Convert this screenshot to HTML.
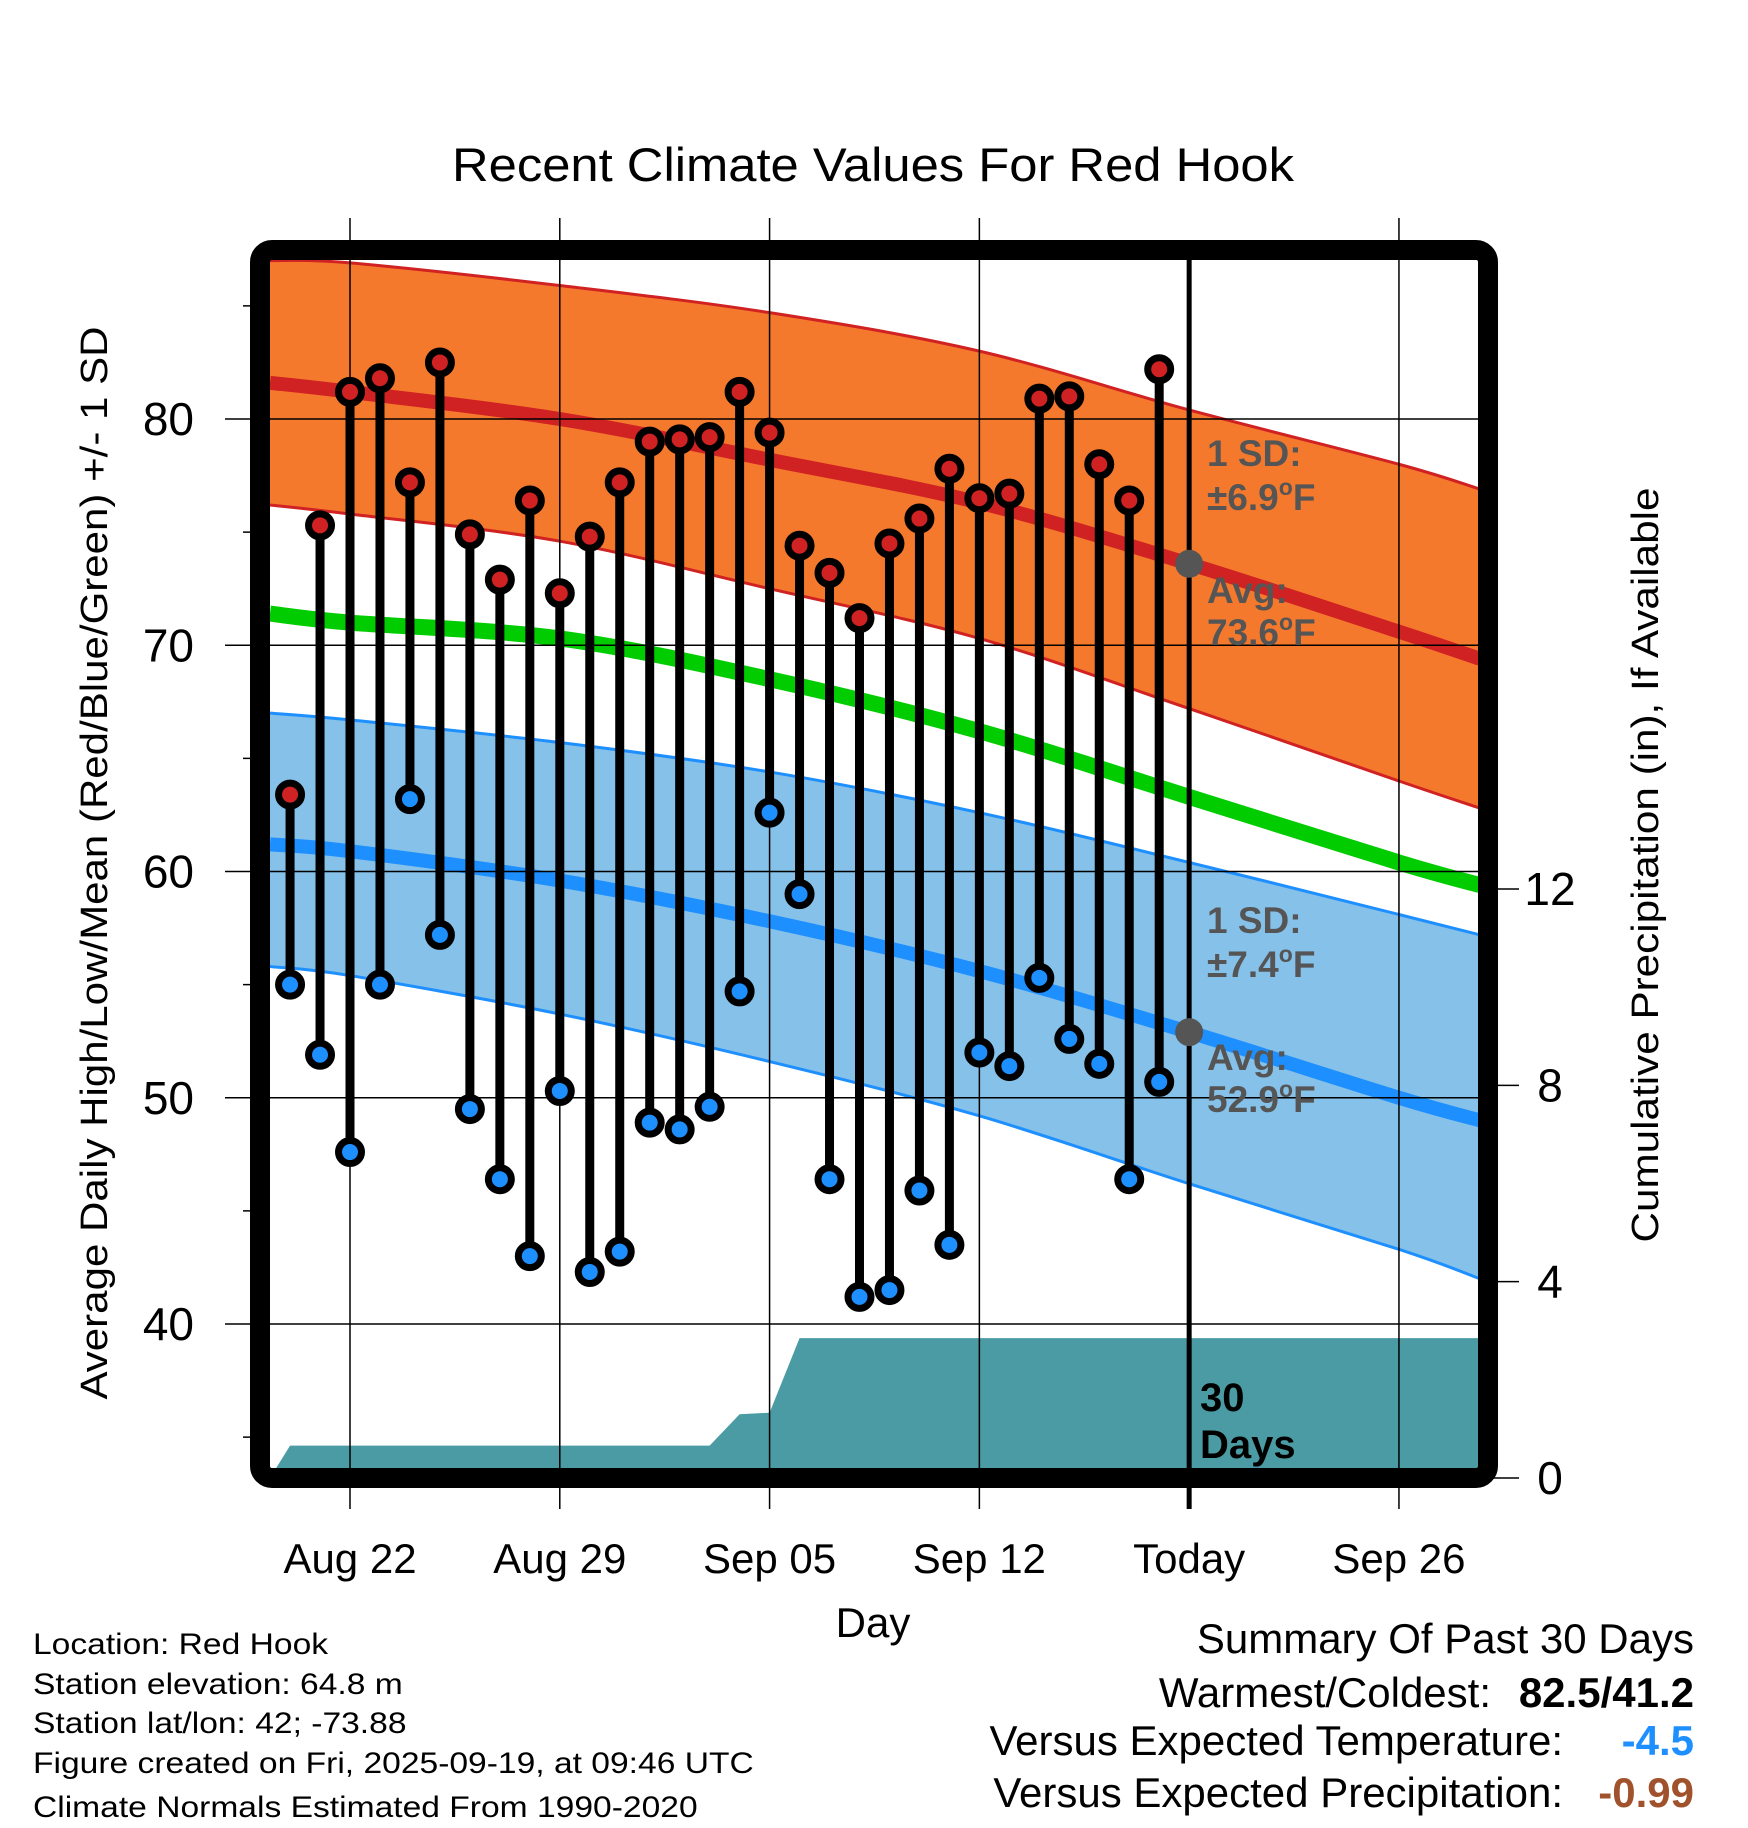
<!DOCTYPE html>
<html><head><meta charset="utf-8"><style>
html,body{margin:0;padding:0;background:#fff;}
svg{display:block;font-family:"Liberation Sans",Arial,sans-serif;}
</style></head><body>
<svg id="chart" width="1748" height="1828" viewBox="0 0 1748 1828" xmlns="http://www.w3.org/2000/svg">
<g id="plot"></g>
<g id="overlay"></g>
</svg>
<script>
// ---- data ----
const tempDays = [-2,-1,0,1,2,3,4,5,6,7,8,9,10,11,12,13,14,15,16,17,18,19,20,21,22,23,24,25,26,27];
const highs = [63.4,75.3,81.2,81.8,77.2,82.5,74.9,72.9,76.4,72.3,74.8,77.2,79.0,79.1,79.2,81.2,79.4,74.4,73.2,71.2,74.5,75.6,77.8,76.5,76.7,80.9,81.0,78.0,76.4,82.2];
const lows = [55.0,51.9,47.6,55.0,63.2,57.2,49.5,46.4,43.0,50.3,42.3,43.2,48.9,48.6,49.6,54.7,62.6,59.0,46.4,41.2,41.5,45.9,43.5,52.0,51.4,55.3,52.6,51.5,46.4,50.7];
const normDays = [-2.67,0,7,14,21,28,35,37.7];
const highMean = [81.6,81.2,80.0,78.2,76.3,73.6,70.6,69.4];
const highUpper = [87.0,86.9,85.9,84.7,83.0,80.4,78.0,76.9];
const highLower = [76.2,75.8,74.6,72.5,70.3,67.2,64.0,62.8];
const avgMean = [71.4,71.0,70.3,68.5,66.2,63.3,60.4,59.4];
const lowMean = [61.2,60.9,59.6,57.8,55.6,52.9,50.0,49.0];
const lowUpper = [67.0,66.7,65.7,64.4,62.6,60.4,58.1,57.2];
const lowLower = [55.8,55.4,53.7,51.6,49.2,46.2,43.3,42.0];
const precipDays = [-2.67,-2,-1,0,1,2,3,4,5,6,7,8,9,10,11,12,13,14,15,37.7];
const precipCum = [0,0.66,0.66,0.66,0.66,0.66,0.66,0.66,0.66,0.66,0.66,0.66,0.66,0.66,0.66,0.66,1.3,1.33,2.85,2.85];
const xTickDays = [0,7,14,21,28,35];
const xTickLabels = ["Aug 22","Aug 29","Sep 05","Sep 12","Today","Sep 26"];
const yTicks = [40,50,60,70,80];
const yMinor = [35,45,55,65,75,85];
const pTicks = [0,4,8,12];
const todayDay = 28;
const todayHighAvg = 73.6, todayLowAvg = 52.9;

// ---- axes ----
const X0=270,X1=1478,Y0=260,Y1=1468;
const x = d => 350 + d*29.97;
const y = v => 1324 - (v-40)*22.625;
const yp = p => 1478 - p*49.08;

const NS="http://www.w3.org/2000/svg";
const plot=document.getElementById('plot');
function mk(tag, attrs, parent){const e=document.createElementNS(NS,tag);for(const k in attrs)e.setAttribute(k,attrs[k]);(parent||plot).appendChild(e);return e;}

// smooth path through points (Catmull-Rom)
function smooth(pts, moveFirst){
  let d=(moveFirst?'M':'L')+pts[0][0]+','+pts[0][1];
  for(let i=0;i<pts.length-1;i++){
    const p0=pts[i-1]||pts[i],p1=pts[i],p2=pts[i+1],p3=pts[i+2]||p2;
    const c1=[p1[0]+(p2[0]-p0[0])/6,p1[1]+(p2[1]-p0[1])/6];
    const c2=[p2[0]-(p3[0]-p1[0])/6,p2[1]-(p3[1]-p1[1])/6];
    d+='C'+c1[0]+','+c1[1]+' '+c2[0]+','+c2[1]+' '+p2[0]+','+p2[1];
  }
  return d;
}
const ptsOf = arr => normDays.map((t,i)=>[x(t),y(arr[i])]);

const defs=mk('defs',{});
const cp=mk('clipPath',{id:'clip'},defs);
mk('rect',{x:X0,y:Y0,width:X1-X0,height:Y1-Y0},cp);
const g=mk('g',{'clip-path':'url(#clip)'});

function band(up,lo,fill,stroke,name){
  const d=smooth(ptsOf(up),true)+smooth(ptsOf(lo).reverse(),false)+'Z';
  const p=mk('path',{d:d,fill:fill},g);
  
  
  [up,lo].forEach(arr=>{
    const l=mk('path',{d:smooth(ptsOf(arr),true),fill:'none',stroke:stroke,'stroke-width':3},g);
    
    
  });
}
function line(arr,color,w,name){
  const l=mk('path',{d:smooth(ptsOf(arr),true),fill:'none',stroke:color,'stroke-width':w},g);
  
  
}
band(highUpper,highLower,'#f5792d','#d02222','high-sd-band');
band(lowUpper,lowLower,'#85c1e9','#1e8fff','low-sd-band');
line(highMean,'#d02222',14,'normal-high-line');
line(avgMean,'#00cc00',16,'normal-mean-line');
line(lowMean,'#1e8fff',14,'normal-low-line');

// precip area
let pd='M'+x(precipDays[0])+','+Y1;
precipDays.forEach((t,i)=>{pd+='L'+x(t)+','+yp(precipCum[i]);});
pd+='L'+x(precipDays[precipDays.length-1])+','+Y1+'Z';
const pa=mk('path',{d:pd,fill:'#4a9ba3'},g);



// grid
xTickDays.forEach((t,i)=>{
  if(t===todayDay) return;
  const l=mk('line',{x1:x(t),x2:x(t),y1:218,y2:1509,stroke:'#000','stroke-width':1.5});
  
  
});
yTicks.forEach(v=>{
  const l=mk('line',{x1:225,x2:X1,y1:y(v),y2:y(v),stroke:'#000','stroke-width':1.5});
  
  
  const t=mk('text',{x:194,y:y(v)+16,'font-size':46,'text-anchor':'end'});
  t.textContent=v;
  
  
});
yMinor.forEach(v=>{
  const l=mk('line',{x1:243,x2:255,y1:y(v),y2:y(v),stroke:'#000','stroke-width':1.5});
  
  
});
pTicks.forEach(p=>{
  const l=mk('line',{x1:1490,x2:1519,y1:yp(p),y2:yp(p),stroke:'#000','stroke-width':1.5});
  
  
  const t=mk('text',{x:1550,y:yp(p)+16,'font-size':46,'text-anchor':'middle'});
  t.textContent=p;
  
  
});

// today line
const tl=mk('line',{x1:x(todayDay),x2:x(todayDay),y1:250,y2:1509,stroke:'#000','stroke-width':5});



// stems and markers
tempDays.forEach((t,i)=>{
  const s=mk('line',{x1:x(t),x2:x(t),y1:y(highs[i]),y2:y(lows[i]),stroke:'#000','stroke-width':9});
  
  
});
tempDays.forEach((t,i)=>{
  const h=mk('circle',{cx:x(t),cy:y(highs[i]),r:11.5,fill:'#d02222',stroke:'#000','stroke-width':7});
  
  
  const l=mk('circle',{cx:x(t),cy:y(lows[i]),r:11.5,fill:'#1e8fff',stroke:'#000','stroke-width':7});
  
  
});
[todayHighAvg,todayLowAvg].forEach(v=>{
  const c=mk('circle',{cx:x(todayDay),cy:y(v),r:14,fill:'#555'});
  
  
});

// frame
const fr=mk('rect',{x:260,y:250,width:1228,height:1228,rx:12,fill:'none',stroke:'#000','stroke-width':20});



// x tick labels
xTickDays.forEach((t,i)=>{
  const tx=mk('text',{x:x(t),y:1573,'font-size':42,'text-anchor':'middle'});
  tx.textContent=xTickLabels[i];
  
  
});
</script>
<script>
const ovl=document.getElementById('overlay');
ovl.innerHTML=`
<text x="873" y="181" font-size="47" text-anchor="middle" textLength="842" lengthAdjust="spacingAndGlyphs">Recent Climate Values For Red Hook</text>
<text x="873" y="1637" font-size="42" text-anchor="middle">Day</text>
<text transform="translate(107,863) rotate(-90)" font-size="38" text-anchor="middle" textLength="1073" lengthAdjust="spacingAndGlyphs">Average Daily High/Low/Mean (Red/Blue/Green) +/- 1 SD</text>
<text transform="translate(1658,865) rotate(-90)" font-size="38" text-anchor="middle" textLength="755" lengthAdjust="spacingAndGlyphs">Cumulative Precipitation (in), If Available</text>
<g fill="#555" font-size="37" font-weight="bold">
<text x="1207" y="466">1 SD:</text>
<text x="1207" y="510">±6.9<tspan dy="-15" font-size="23">o</tspan><tspan dy="15">F</tspan></text>
<text x="1207" y="603">Avg:</text>
<text x="1207" y="645">73.6<tspan dy="-15" font-size="23">o</tspan><tspan dy="15">F</tspan></text>
</g>
<g fill="#555" font-size="37" font-weight="bold">
<text x="1207" y="933">1 SD:</text>
<text x="1207" y="977">±7.4<tspan dy="-15" font-size="23">o</tspan><tspan dy="15">F</tspan></text>
<text x="1207" y="1070">Avg:</text>
<text x="1207" y="1112">52.9<tspan dy="-15" font-size="23">o</tspan><tspan dy="15">F</tspan></text>
</g>
<g font-size="40" font-weight="bold">
<text x="1200" y="1411">30</text><text x="1200" y="1458">Days</text>
</g>
<g font-size="30" transform="translate(33,0) scale(1.12,1)">
<text x="0" y="1654">Location: Red Hook</text>
<text x="0" y="1694">Station elevation: 64.8 m</text>
<text x="0" y="1733">Station lat/lon: 42; -73.88</text>
<text x="0" y="1773">Figure created on Fri, 2025-09-19, at 09:46 UTC</text>
<text x="0" y="1817">Climate Normals Estimated From 1990-2020</text>
</g>
<g font-size="42">
<text x="1694" y="1653" text-anchor="end">Summary Of Past 30 Days</text>
<text x="1491" y="1707" text-anchor="end">Warmest/Coldest:</text>
<text x="1694" y="1707" text-anchor="end" font-weight="bold">82.5/41.2</text>
<text x="1563" y="1755" text-anchor="end">Versus Expected Temperature:</text>
<text x="1694" y="1755" text-anchor="end" font-weight="bold" fill="#1e8fff">-4.5</text>
<text x="1563" y="1807" text-anchor="end">Versus Expected Precipitation:</text>
<text x="1694" y="1807" text-anchor="end" font-weight="bold" fill="#a0522d">-0.99</text>
</g>`;
</script>
</body></html>
